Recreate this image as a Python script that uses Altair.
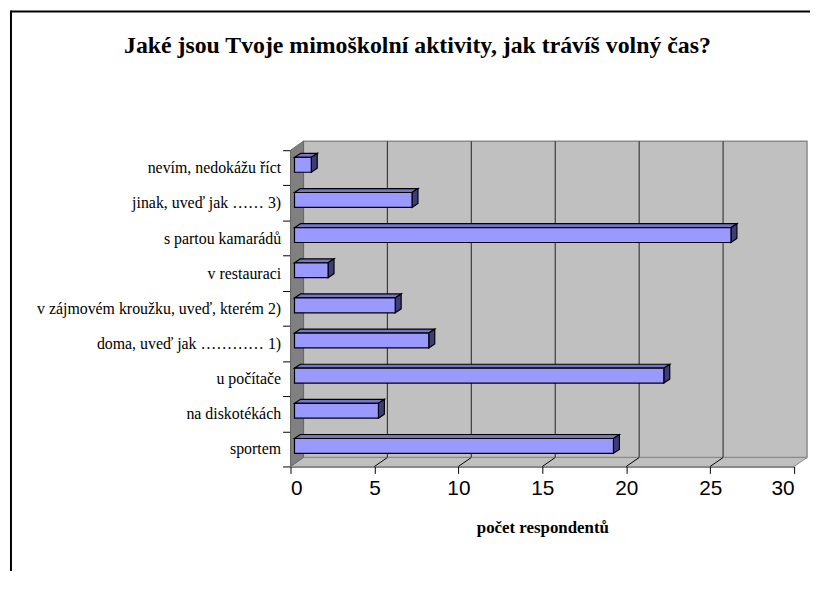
import altair as alt
import pandas as pd

# ---- data (top to bottom, as in the reference) ----
CATEGORIES = [
    "nevím, nedokážu říct",
    "jinak, uveď jak …… 3)",
    "s partou kamarádů",
    "v restauraci",
    "v zájmovém kroužku, uveď, kterém 2)",
    "doma, uveď jak ………… 1)",
    "u počítače",
    "na diskotékách",
    "sportem",
]
VALUES = [1, 7, 26, 2, 6, 8, 22, 5, 19]
X_TICKS = [0, 5, 10, 15, 20, 25, 30]
TITLE = "Jaké jsou Tvoje mimoškolní aktivity, jak trávíš volný čas?"
X_TITLE = "počet respondentů"

# ---- layout / style constants (pixels) ----
W, H = 508, 319
XMAX = 30
NCAT = len(CATEGORIES)
KX = W / XMAX          # px per x unit
UY = H / NCAT          # px per category unit
WALL_DX, WALL_DY = 13, 9
BAR_DX, BAR_DY, BAR_H = 4, 3, 15
DEP_DX, DEP_DY = 6, 4

FRONT = "#9999ff"
TOPC = "#7575c8"
SIDEC = "#3d3d7a"
WALL = "#c0c0c0"
SIDEWALL = "#808080"
SERIF = "Liberation Serif"
SANS = "Liberation Sans"

XS = alt.Scale(domain=[0, XMAX], nice=False, zero=False)
YQ = alt.Scale(domain=[0, NCAT], nice=False, zero=False)
X_AXIS = alt.Axis(
    values=X_TICKS, title=X_TITLE, grid=False,
    labelFont=SANS, labelFontSize=21, labelColor="black",
    labelPadding=4, tickSize=7, tickColor="black", domainColor="black",
    titleFont=SERIF, titleFontSize=17, titleFontWeight="bold",
    titleColor="black", titlePadding=22,
)

# ---- derived tables ----
bars = pd.DataFrame({"cat": CATEGORIES, "value": VALUES})
bars["qc"] = [NCAT - i - 0.5 for i in range(NCAT)]

top_rows, right_rows = [], []
for c, v, qc in zip(bars["cat"], bars["value"], bars["qc"]):
    yc = qc + BAR_DY / UY
    ytop = yc + (BAR_H / 2) / UY
    ybot = yc - (BAR_H / 2) / UY
    for k in (0, 1):
        dx = (BAR_DX + k * DEP_DX) / KX
        dy = k * DEP_DY / UY
        top_rows.append({"cat": c, "y": ytop + dy, "x": dx, "x2": v + dx})
        right_rows.append({"cat": c, "x": v + dx, "y": ybot + dy, "y2": ytop + dy})
top_df = pd.DataFrame(top_rows)
right_df = pd.DataFrame(right_rows)

ddx, ddy = WALL_DX / KX, WALL_DY / UY
side_df = pd.DataFrame({"x": [0, ddx], "y": [0, ddy], "y2": [NCAT, NCAT + ddy]})
floor_df = pd.DataFrame({"y": [0, ddy], "x": [0, ddx], "x2": [XMAX, XMAX + ddx]})
fg_rows = []
for t in X_TICKS[1:-1]:
    fg_rows.append({"t": t, "x": t, "y": 0})
    fg_rows.append({"t": t, "x": t + ddx, "y": ddy})
floorgrid_df = pd.DataFrame(fg_rows)
wall_df = pd.DataFrame({"x": [0], "x2": [XMAX], "y": [0], "y2": [NCAT]})
grid_df = pd.DataFrame({"x": X_TICKS[1:-1]})


def X(f):
    return alt.X(f, scale=XS, axis=X_AXIS)


def Y(f):
    return alt.Y(f, scale=YQ, axis=None)


backwall = alt.Chart(wall_df).mark_rect(
    fill=WALL, stroke="#8a8a8a", strokeWidth=1.5,
    xOffset=WALL_DX, x2Offset=WALL_DX, yOffset=-WALL_DY, y2Offset=-WALL_DY,
).encode(x=X("x:Q"), x2="x2:Q", y=Y("y:Q"), y2="y2:Q")

backgrid = alt.Chart(grid_df).mark_rule(
    color="#222222", strokeWidth=1, xOffset=WALL_DX, yOffset=-WALL_DY, y2Offset=-WALL_DY,
).encode(x=X("x:Q"), y=alt.Y("y0:Q", scale=YQ, axis=None), y2="y1:Q").transform_calculate(
    y0="0", y1=str(NCAT)
)

floor = alt.Chart(floor_df).mark_area(
    orient="horizontal", fill=WALL, stroke="#8a8a8a", strokeWidth=1
).encode(y=Y("y:Q"), x=X("x:Q"), x2="x2:Q")

floorgrid = alt.Chart(floorgrid_df).mark_line(color="black", strokeWidth=1).encode(
    x=X("x:Q"), y=Y("y:Q"), detail="t:N"
)

sidewall = alt.Chart(side_df).mark_area(
    orient="vertical", fill=SIDEWALL, stroke="#666666", strokeWidth=1
).encode(x=X("x:Q"), y=Y("y:Q"), y2="y2:Q")

topfaces = alt.Chart(top_df).mark_area(
    orient="horizontal", fill=TOPC, stroke="black", strokeWidth=1.2
).encode(y=Y("y:Q"), x=X("x:Q"), x2="x2:Q", detail="cat:N")

rightfaces = alt.Chart(right_df).mark_area(
    orient="vertical", fill=SIDEC, stroke="black", strokeWidth=1.2
).encode(x=X("x:Q"), y=Y("y:Q"), y2="y2:Q", detail="cat:N")

title = alt.Chart(pd.DataFrame({"t": [TITLE]})).mark_text(
    font=SERIF, fontSize=24, fontWeight="bold", color="black",
    align="center", baseline="middle",
).encode(text="t:N", x=alt.value(128), y=alt.value(-105))

border_top = alt.Chart(pd.DataFrame({"a": [0]})).mark_rule(color="black", strokeWidth=2).encode(
    x=alt.value(-282), x2=alt.value(W + 40), y=alt.value(-140)
)
border_left = alt.Chart(pd.DataFrame({"a": [0]})).mark_rule(color="black", strokeWidth=2).encode(
    x=alt.value(-282), y=alt.value(-141), y2=alt.value(H + 200)
)

decor = alt.layer(
    backwall, backgrid, floor, floorgrid, sidewall, topfaces, rightfaces,
    title, border_top, border_left,
)

front = alt.Chart(bars).mark_bar(
    size=BAR_H, fill=FRONT, stroke="black", strokeWidth=1.2,
    xOffset=BAR_DX, x2Offset=BAR_DX, yOffset=-BAR_DY, y2Offset=-BAR_DY,
).encode(
    x=alt.X("value:Q", scale=XS, axis=X_AXIS),
    y=alt.Y(
        "cat:N", sort=CATEGORIES,
        scale=alt.Scale(paddingInner=0, paddingOuter=0),
        axis=alt.Axis(
            title=None, tickBand="extent", tickSize=8, tickColor="black",
            domainColor="black", labelFont=SERIF, labelFontSize=16,
            labelColor="black", labelPadding=2, labelLimit=400,
        ),
    ),
)

chart = alt.layer(decor, front).resolve_scale(y="independent").properties(
    width=W, height=H,
    autosize=alt.AutoSizeParams(type="none"),
    padding={"left": 285, "top": 141, "right": 16, "bottom": 103},
).configure_view(stroke=None).configure(background="white").configure_axisY(
    labelFont=SERIF, labelFontSize=16
).configure_axisX(labelFont=SANS, labelFontSize=21)

chart.save("out.html", embed_options={"renderer": "svg", "actions": False})
